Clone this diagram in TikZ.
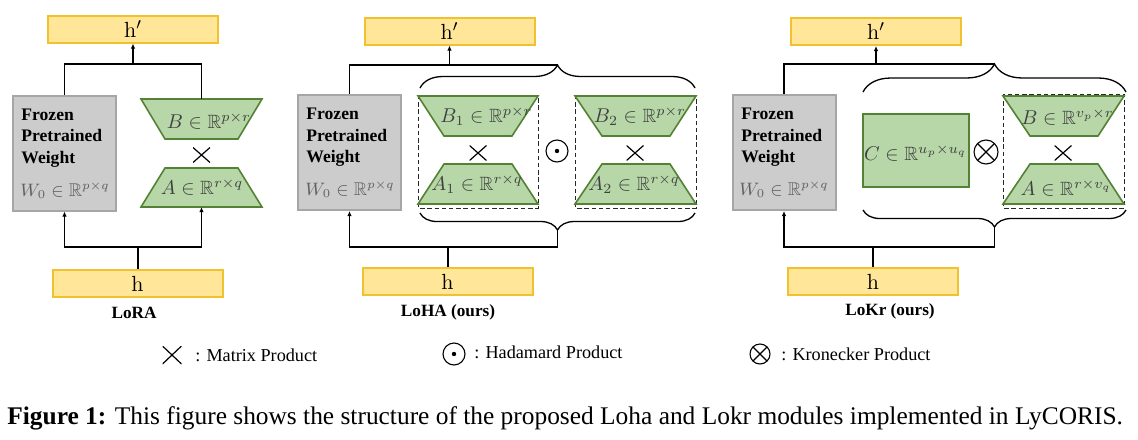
\documentclass[tikz,border=0pt]{standalone}
\usepackage{amssymb}
\usepackage[no-math]{fontspec}
\setmainfont{Liberation Serif}
\usetikzlibrary{arrows.meta,decorations.pathreplacing}

\definecolor{hfill}{RGB}{255,230,153}
\definecolor{hline}{RGB}{242,193,46}
\definecolor{gfill}{RGB}{204,204,204}
\definecolor{gline}{RGB}{166,166,166}
\definecolor{mfill}{RGB}{183,215,168}
\definecolor{mline}{RGB}{84,130,53}
\definecolor{wgray}{RGB}{95,95,95}

\begin{document}
\begin{tikzpicture}[
		x=0.5pt, y=-0.5pt,
		hvec/.style={draw=hline, fill=hfill, line width=1pt, minimum width=85pt, minimum height=13.5pt, inner sep=0pt, font=\fontsize{11}{13}\selectfont},
		frozen/.style={draw=gline, fill=gfill, line width=1pt, minimum width=51.5pt, minimum height=57.5pt},
		ftext/.style={align=left, anchor=west, inner sep=0pt, font=\fontsize{8.8}{10.75}\selectfont\bfseries},
		wtext/.style={text=wgray, inner sep=0pt, font=\fontsize{9.2}{11}\selectfont},
		mat/.style={draw=mline, fill=mfill, line width=0.8pt},
		mtext/.style={text=black!75, inner sep=0pt, font=\fontsize{9.6}{11}\selectfont},
		dbox/.style={draw=black!85, dash pattern=on 2.2pt off 1.4pt, line width=0.5pt},
		conn/.style={line width=0.65pt},
		feed/.style={line width=1pt},
		arr/.style={-{Latex[length=2.5pt,width=2.2pt]}},
		brc/.style={decorate, decoration={brace, amplitude=#1}, line width=0.65pt},
		mprod/.style={minimum width=8.5pt, minimum height=7.5pt, inner sep=0pt,
			path picture={\draw[line width=0.6pt] (path picture bounding box.north west) -- (path picture bounding box.south east)
				(path picture bounding box.north east) -- (path picture bounding box.south west);}},
		hprod/.style={circle, draw, line width=0.55pt, minimum size=11pt, inner sep=0pt,
			path picture={\fill (path picture bounding box.center) circle (1.1pt);}},
		kprod/.style={circle, draw, line width=0.55pt, minimum size=12pt, inner sep=0pt,
			path picture={\draw[line width=0.55pt] (path picture bounding box.north west) -- (path picture bounding box.south east)
				(path picture bounding box.north east) -- (path picture bounding box.south west);}},
		title/.style={inner sep=0pt, font=\fontsize{8.6}{10}\selectfont\bfseries},
		legend/.style={anchor=west, inner sep=0pt, font=\fontsize{9.1}{11}\selectfont}
	]
	\useasboundingbox (0,0) rectangle (1138,439);

	% LoRA
	\node[hvec] (hp1) at (133,29) {$\mathrm{h}'$};
	\node[hvec] (h1) at (137.5,283.5) {$\mathrm{h}$};
	\node[frozen] (W1) at (64.5,153) {};
	\node[ftext] (F1) at (21,138) {Frozen\\Pretrained\\Weight};
	\node[wtext] (w1) at (65,190) {$W_0\in\mathbb{R}^{p\times q}$};
	\draw[mat] (141,99) -- (262,99) -- (238,139) -- (165,139) -- cycle;
	\node[mtext] (Bl1) at (209,121) {$B\in\mathbb{R}^{p\times r}$};
	\node[mprod] (x1) at (201.5,155) {};
	\draw[mat] (165,168) -- (238,168) -- (262,207) -- (141,207) -- cycle;
	\node[mtext] (Al1) at (202,187) {$A\in\mathbb{R}^{r\times q}$};
	\coordinate (Bt1) at (201.5,99);
	\coordinate (Ab1) at (201.5,207);
	\draw[conn] (W1.north) |- (Bt1 |- 0,64) -- (Bt1);
	\draw[conn,arr] (hp1.south |- 0,64) -- (hp1.south);
	\draw[feed] (h1.north) -- (h1.north |- 0,247);
	\draw[conn,arr] (Ab1 |- 0,247) -- (Ab1);
	\draw[conn,arr] (Ab1 |- 0,247) -| (W1.south);
	\node[title] (n1) at (134,313) {LoRA};

	% LoHA
	\node[hvec] (hp2) at (449.5,31) {$\mathrm{h}'$};
	\node[hvec] (h2) at (447.5,281.5) {$\mathrm{h}$};
	\node[frozen] (W2) at (349.5,152.5) {};
	\node[ftext] (F2) at (306,137.5) {Frozen\\Pretrained\\Weight};
	\node[wtext] (w2) at (350,189) {$W_0\in\mathbb{R}^{p\times q}$};
	\draw[dbox] (418,95) rectangle (538,208);
	\draw[mat] (418,96) -- (538,96) -- (512,136) -- (444,136) -- cycle;
	\node[mtext] (Bl2) at (486.5,116) {$B_1\in\mathbb{R}^{p\times r}$};
	\node[mprod] (x2) at (478,153) {};
	\draw[mat] (444,164) -- (512,164) -- (538,204) -- (418,204) -- cycle;
	\node[mtext] (Al2) at (477,184) {$A_1\in\mathbb{R}^{r\times q}$};
	\node[hprod] (o2) at (557,151) {};
	\draw[dbox] (575,95) rectangle (696,208);
	\draw[mat] (575,96) -- (696,96) -- (670,136) -- (602,136) -- cycle;
	\node[mtext] (Bl3) at (640,116) {$B_2\in\mathbb{R}^{p\times r}$};
	\node[mprod] (x3) at (635,153) {};
	\draw[mat] (602,164) -- (670,164) -- (696,204) -- (575,204) -- cycle;
	\node[mtext] (Al3) at (634,184) {$A_2\in\mathbb{R}^{r\times q}$};
	\draw[brc=11.5pt] (420,88) -- (695,88);
	\draw[brc=8.5pt] (695,213) -- (420,213);
	\coordinate (tt2) at (557.5,65);
	\coordinate (bt2) at (557.5,230);
	\draw[conn] (W2.north) |- (tt2);
	\draw[conn,arr] (hp2.south |- 0,65) -- (hp2.south);
	\draw[feed] (h2.north) -- (h2.north |- 0,247);
	\draw[conn] (bt2) -- (bt2 |- 0,247);
	\draw[conn,arr] (bt2 |- 0,247) -| (W2.south);
	\node[title] (n2) at (448,312) {LoHA (ours)};

	% LoKr
	\node[hvec] (hp3) at (876,31.5) {$\mathrm{h}'$};
	\node[hvec] (h3) at (873,281.5) {$\mathrm{h}$};
	\node[frozen] (W3) at (784,152.5) {};
	\node[ftext] (F3) at (741,137.5) {Frozen\\Pretrained\\Weight};
	\node[wtext] (w3) at (784,189) {$W_0\in\mathbb{R}^{p\times q}$};
	\node[mat, minimum width=53pt, minimum height=36.5pt, inner sep=0pt] (C3) at (916,150.5) {};
	\node[mtext] (Cl3) at (915.5,153) {$C\in\mathbb{R}^{u_p\times u_q}$};
	\node[kprod] (k3) at (986,152) {};
	\draw[dbox] (1003,94) rectangle (1124,208);
	\draw[mat] (1003,96) -- (1124,96) -- (1098,136) -- (1030,136) -- cycle;
	\node[mtext] (Bl4) at (1067.5,117) {$B\in\mathbb{R}^{v_p\times r}$};
	\node[mprod] (x4) at (1063,153) {};
	\draw[mat] (1030,164) -- (1098,164) -- (1124,204) -- (1003,204) -- cycle;
	\node[mtext] (Al4) at (1066,188) {$A\in\mathbb{R}^{r\times v_q}$};
	\draw[brc=14pt] (863,92) -- (1126,92);
	\draw[brc=8.5pt] (1126,210) -- (863,210);
	\coordinate (tt3) at (994.5,64);
	\coordinate (bt3) at (994.5,227);
	\draw[conn] (W3.north) |- (tt3);
	\draw[conn,arr] (hp3.south |- 0,64) -- (hp3.south);
	\draw[feed] (h3.north) -- (h3.north |- 0,247);
	\draw[conn] (bt3) -- (bt3 |- 0,247);
	\draw[conn,arr] (bt3 |- 0,247) -| (W3.south);
	\node[title] (n3) at (890,311) {LoKr (ours)};

	% legend
	\node[mprod, minimum width=9.5pt, minimum height=9pt] (lx) at (172,355) {};
	\node[legend] (lxt) at (195,355) {: Matrix Product};
	\node[hprod] (lo) at (454,354) {};
	\node[legend] (lot) at (474,352) {: Hadamard Product};
	\node[kprod, minimum size=10pt] (lk) at (760,354) {};
	\node[legend] (lkt) at (781,354) {: Kronecker Product};

	% caption
	\node[anchor=base west, inner sep=0pt, font=\fontsize{12.7}{15}\selectfont] (cap) at (7,424)
		{\textbf{Figure 1:} This figure shows the structure of the proposed Loha and Lokr modules implemented in LyCORIS.};
\end{tikzpicture}
\end{document}
